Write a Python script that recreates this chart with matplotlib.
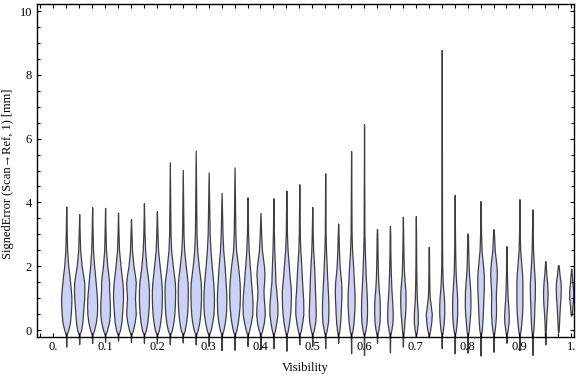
import numpy as np
import matplotlib
matplotlib.use("Agg")
import matplotlib.pyplot as plt
from matplotlib.ticker import MultipleLocator

# visibility bins (violin centres)
visibility = [0.025, 0.05, 0.075, 0.1, 0.125, 0.15, 0.175, 0.2, 0.225, 0.25,
              0.275, 0.3, 0.325, 0.35, 0.375, 0.4, 0.425, 0.45, 0.475, 0.5,
              0.525, 0.55, 0.575, 0.6, 0.625, 0.65, 0.675, 0.7, 0.725, 0.75,
              0.775, 0.8, 0.825, 0.85, 0.875, 0.9, 0.925, 0.95, 0.975, 1.0]

# min / max of signed error per bin [mm]
err_min = [-0.52, -0.44, -0.40, -0.37, -0.33, -0.38, -0.40, -0.42, -0.44, -0.39,
           -0.45, -0.50, -0.63, -0.62, -0.50, -0.60, -0.57, -0.65, -0.45, -0.50,
           -0.57, -0.40, -0.73, -0.78, -0.40, -0.70, -0.52, -0.20, -0.22, -0.57,
           -0.73, -0.71, -0.80, -0.68, -0.40, -0.63, -0.78, -0.45, -0.07, 0.45]
err_max = [3.87, 3.63, 3.85, 3.83, 3.68, 3.48, 3.98, 3.73, 5.26, 5.02,
           5.62, 4.94, 4.30, 5.10, 4.16, 3.67, 4.13, 4.37, 4.57, 3.86,
           4.91, 3.34, 5.61, 6.45, 3.17, 3.26, 3.55, 3.57, 2.61, 8.78,
           4.23, 3.03, 4.04, 3.16, 2.63, 4.10, 3.78, 2.16, 2.04, 1.93]

# relative density read at these error levels
levels = [0, 0.25, 0.5, 0.75, 1.0, 1.25, 1.5, 1.75, 2.0, 2.5, 3.0]
density = [
    [2.0, 3.8, 4.5, 5.0, 5.2, 4.6, 3.8, 3.0, 2.0, 0.9, 0.5],
    [2.0, 3.2, 3.8, 4.4, 5.0, 5.2, 5.0, 3.8, 2.5, 1.0, 0.5],
    [2.0, 3.8, 4.8, 5.0, 4.8, 4.2, 3.5, 2.8, 2.0, 0.9, 0.5],
    [2.0, 3.9, 4.8, 4.8, 4.5, 4.0, 4.0, 3.2, 2.2, 0.9, 0.5],
    [2.0, 3.4, 4.0, 4.6, 5.0, 4.9, 4.3, 3.4, 2.5, 1.0, 0.5],
    [2.0, 3.7, 4.8, 4.4, 4.0, 4.4, 4.8, 3.8, 2.5, 1.0, 0.5],
    [2.0, 3.4, 4.2, 4.8, 5.0, 5.0, 4.5, 3.5, 2.5, 1.2, 0.6],
    [2.0, 3.4, 4.3, 4.8, 5.0, 5.0, 4.5, 3.7, 2.8, 1.2, 0.6],
    [2.0, 3.6, 4.5, 5.0, 5.2, 5.3, 5.0, 4.0, 3.0, 1.3, 0.7],
    [2.0, 3.4, 4.3, 4.8, 5.0, 5.0, 4.8, 4.0, 3.0, 1.4, 0.7],
    [2.0, 3.6, 4.5, 5.0, 5.3, 5.3, 5.0, 4.0, 3.0, 1.5, 0.8],
    [2.0, 3.6, 4.8, 5.2, 5.3, 5.0, 4.5, 3.8, 3.0, 1.8, 1.0],
    [1.8, 3.3, 4.3, 4.6, 4.7, 4.5, 4.0, 3.5, 3.0, 1.6, 0.9],
    [1.8, 3.3, 4.3, 5.0, 5.3, 5.3, 5.0, 4.3, 3.5, 1.5, 0.8],
    [1.8, 3.5, 4.8, 5.0, 4.8, 4.2, 3.5, 3.0, 2.3, 1.2, 0.6],
    [1.8, 3.5, 4.3, 4.0, 3.3, 3.0, 3.6, 4.0, 3.5, 1.5, 0.7],
    [1.6, 3.0, 4.0, 4.0, 3.5, 2.8, 2.0, 1.8, 1.5, 0.9, 0.5],
    [1.6, 2.8, 3.8, 4.3, 4.5, 4.5, 3.8, 3.0, 2.5, 1.2, 0.6],
    [1.6, 3.0, 4.0, 4.0, 3.8, 3.2, 2.8, 2.4, 2.0, 1.0, 0.5],
    [1.5, 3.0, 3.5, 3.3, 3.0, 2.7, 2.5, 2.2, 1.8, 0.9, 0.5],
    [1.5, 2.8, 3.2, 3.2, 3.0, 2.6, 2.2, 1.8, 1.5, 0.8, 0.4],
    [1.2, 2.0, 2.5, 2.8, 3.2, 3.3, 3.0, 2.2, 1.5, 0.8, 0.4],
    [1.5, 2.5, 3.0, 3.5, 3.5, 3.3, 2.8, 2.4, 2.0, 1.0, 0.5],
    [1.5, 2.6, 3.0, 3.0, 2.8, 2.4, 2.0, 1.6, 1.3, 0.8, 0.4],
    [1.4, 2.5, 2.8, 2.8, 2.5, 1.8, 1.3, 1.0, 0.8, 0.5, 0.3],
    [1.4, 2.6, 2.8, 2.5, 2.0, 1.5, 1.2, 0.9, 0.7, 0.4, 0.3],
    [1.0, 1.5, 2.2, 2.6, 2.7, 2.5, 1.8, 1.2, 0.9, 0.5, 0.3],
    [1.2, 2.0, 2.0, 1.5, 1.0, 0.8, 0.6, 0.5, 0.4, 0.3, 0.2],
    [1.4, 2.5, 3.0, 2.0, 1.0, 0.6, 0.5, 0.4, 0.3, 0.2, 0.0],
    [1.2, 2.0, 2.5, 2.5, 2.2, 1.5, 1.0, 0.7, 0.5, 0.4, 0.3],
    [1.2, 2.0, 2.5, 2.5, 2.5, 2.0, 1.5, 1.0, 0.8, 0.5, 0.3],
    [1.2, 1.8, 2.5, 2.8, 2.8, 2.6, 2.0, 1.4, 1.0, 0.6, 0.3],
    [1.2, 1.8, 2.2, 2.5, 2.8, 3.2, 3.3, 3.2, 2.5, 1.0, 0.5],
    [1.2, 2.0, 2.5, 2.5, 2.3, 2.5, 3.0, 3.3, 3.0, 1.2, 0.5],
    [1.2, 2.2, 2.3, 1.8, 1.2, 0.9, 0.7, 0.5, 0.4, 0.3, 0.0],
    [1.2, 2.0, 2.6, 3.0, 3.0, 3.0, 3.0, 2.7, 2.0, 0.8, 0.4],
    [1.0, 1.5, 1.8, 2.0, 2.4, 2.5, 2.5, 2.0, 1.5, 0.7, 0.4],
    [0.5, 0.8, 1.2, 1.8, 2.2, 2.2, 1.8, 1.0, 0.5, 0.0, 0.0],
    [0.4, 0.8, 1.2, 1.6, 2.2, 2.5, 2.3, 1.2, 0.5, 0.0, 0.0],
    [0.0, 0.0, 0.6, 1.2, 2.0, 2.0, 1.2, 0.6, 0.3, 0.0, 0.0],
]

x_ticks = [0.0, 0.1, 0.2, 0.3, 0.4, 0.5, 0.6, 0.7, 0.8, 0.9, 1.0]
x_ticklabels = ["0.", "0.1", "0.2", "0.3", "0.4", "0.5", "0.6", "0.7", "0.8", "0.9", "1."]
y_ticks = [0, 2, 4, 6, 8, 10]
y_ticklabels = ["0", "2", "4", "6", "8", "10"]

serif = ["Liberation Serif", "DejaVu Serif"]
plt.rcParams["font.family"] = serif
plt.rcParams["font.size"] = 9

WSCALE = 0.1 / 51.8   # density unit -> visibility units
NECK = 0.3

fig = plt.figure(figsize=(5.76, 3.77), dpi=100)
ax = fig.add_axes([0.0642, 0.106, 0.9327, 0.8834])

for xc, lo, hi, dens in zip(visibility, err_min, err_max, density):
    ys = [lo]
    ws = [0.0]
    if lo < -0.15:
        ys.append(-0.15)
        ws.append(NECK)
    for lv, d in zip(levels, dens):
        if lo < lv < hi:
            ys.append(lv)
            ws.append(d)
    ys.append(hi)
    ws.append(0.0)
    ys = np.array(ys)
    ws = np.array(ws) * WSCALE
    ax.fill_betweenx(ys, xc - ws, xc + ws, facecolor="#ccd2f5",
                     edgecolor="#3f3f3f", linewidth=0.9, clip_on=False, zorder=1)

ax.set_xlim(-0.0315, 1.0058)
ax.set_ylim(-0.22, 10.22)

ax.set_xticks(x_ticks)
ax.set_xticklabels(x_ticklabels)
ax.xaxis.set_minor_locator(MultipleLocator(0.025))
ax.set_yticks(y_ticks)
ax.set_yticklabels(y_ticklabels)
ax.yaxis.set_minor_locator(MultipleLocator(0.5))

ax.tick_params(which="both", direction="in", top=True, right=True, width=0.8, color="black")
ax.tick_params(axis="x", which="both", length=3, pad=3)
ax.tick_params(axis="y", which="major", length=3.2, pad=3.5)
ax.tick_params(axis="y", which="minor", length=2)
for s in ax.spines.values():
    s.set_linewidth(1.0)
    s.set_zorder(3)

ax.set_xlabel("Visibility")
ax.set_ylabel("SignedError (Scan\u2192Ref, 1) [mm]")
ax.xaxis.set_label_coords(0.5, -0.075)
ax.xaxis.label.set_va("top")
ax.yaxis.set_label_coords(-0.043, 0.49)

fig.savefig("out.png", dpi=100)
